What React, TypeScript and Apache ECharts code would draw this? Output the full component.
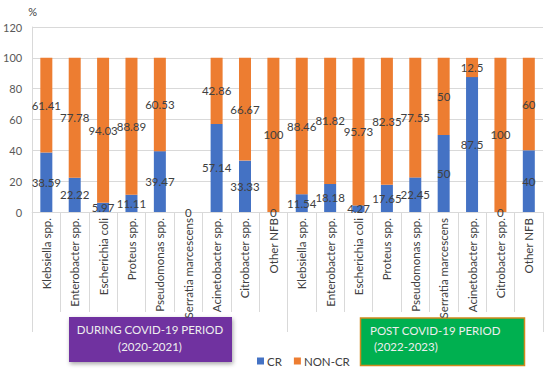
import React, { useEffect, useRef } from "react";
import * as echarts from "echarts";

const categories = [
  "Klebsiella spp.", "Enterobacter spp.", "Escherichia coli", "Proteus spp.", "Pseudomonas spp.",
  "Serratia marcescens", "Acinetobacter spp.", "Citrobacter spp.", "Other NFB",
  "Klebsiella spp.", "Enterobacter spp.", "Escherichia coli", "Proteus spp.", "Pseudomonas spp.",
  "Serratia marcescens", "Acinetobacter spp.", "Citrobacter spp.", "Other NFB",
];
const crValues = [38.59, 22.22, 5.97, 11.11, 39.47, 0, 57.14, 33.33, 0, 11.54, 18.18, 4.27, 17.65, 22.45, 50, 87.5, 0, 40];
const nonCrValues = [61.41, 77.78, 94.03, 88.89, 60.53, 0, 42.86, 66.67, 100, 88.46, 81.82, 95.73, 82.35, 77.55, 50, 12.5, 100, 60];
const groups = ["DURING COVID-19 PERIOD", "POST COVID-19 PERIOD"];
const yTicks = { min: 0, max: 120, interval: 20 };

const FONT = "Lato";
const GRID_LEFT = 31.8;
const GRID_RIGHT = 7;
const GRID_TOP = 27;
const GRID_BOTTOM = 159;

export default function App() {
  const ref = useRef<HTMLDivElement>(null);
  useEffect(() => {
    if (!ref.current) return;
    const chart = echarts.init(ref.current, undefined, { renderer: "svg" });
    const labelBase = {
      show: true,
      position: "inside" as const,
      color: "#404040",
      fontFamily: FONT,
      fontSize: 11.5,
    };
    chart.setOption({
      animation: false,
      textStyle: { fontFamily: FONT },
      grid: { left: GRID_LEFT, right: GRID_RIGHT, top: GRID_TOP, bottom: GRID_BOTTOM, containLabel: false },
      legend: {
        data: ["CR", "NON-CR"],
        left: 257,
        top: 355,
        padding: 0,
        itemWidth: 7,
        itemHeight: 7,
        itemGap: 12,
        icon: "rect",
        textStyle: { color: "#404040", fontSize: 11.5, fontFamily: FONT, padding: [0, 0, 0, -2] },
      },
      xAxis: [
        {
          type: "category",
          data: categories,
          axisLine: { lineStyle: { color: "#d9d9d9" } },
          axisTick: { show: true, interval: 0, length: 100, lineStyle: { color: "#d9d9d9" } },
          axisLabel: {
            interval: 0,
            rotate: 90,
            margin: 6,
            color: "#404040",
            fontSize: 11.5,
            fontFamily: FONT,
          },
        },
        {
          type: "category",
          data: groups,
          position: "bottom",
          axisLine: { show: false },
          axisTick: { show: true, interval: 0, length: 120, lineStyle: { color: "#d9d9d9" } },
          axisLabel: { show: false },
        },
      ],
      yAxis: {
        type: "value",
        min: yTicks.min,
        max: yTicks.max,
        interval: yTicks.interval,
        name: "%",
        nameLocation: "end",
        nameGap: 10,
        nameTextStyle: { color: "#404040", fontSize: 11, fontFamily: FONT, align: "left", padding: [0, 0, 0, -4] },
        axisLine: { show: true, lineStyle: { color: "#d9d9d9" } },
        axisTick: { show: false },
        axisLabel: { color: "#595959", fontSize: 11, fontFamily: FONT, margin: 10 },
        splitLine: { lineStyle: { color: "#d9d9d9" } },
      },
      series: [
        {
          name: "CR",
          type: "bar",
          stack: "total",
          barWidth: 12,
          data: crValues,
          itemStyle: { color: "#4472C4" },
          label: { ...labelBase, formatter: (p: any) => String(p.value) },
        },
        {
          name: "NON-CR",
          type: "bar",
          stack: "total",
          barWidth: 12,
          data: nonCrValues,
          itemStyle: { color: "#ED7D31" },
          label: { ...labelBase, formatter: (p: any) => (p.value === 0 ? "" : String(p.value)) },
        },
      ],
      graphic: [
        {
          type: "rect",
          shape: { x: 69, y: 317, width: 163, height: 45 },
          style: { fill: "#7030A0", shadowBlur: 4, shadowOffsetX: 1, shadowOffsetY: 2, shadowColor: "rgba(0,0,0,0.35)" },
        },
        {
          type: "text",
          x: 150,
          y: 329,
          style: { text: "DURING COVID-19 PERIOD", fill: "#eeeeee", font: `11.5px ${FONT}`, textAlign: "center", textVerticalAlign: "middle" },
        },
        {
          type: "text",
          x: 150,
          y: 346,
          style: { text: "(2020-2021)", fill: "#eeeeee", font: `11.5px ${FONT}`, textAlign: "center", textVerticalAlign: "middle" },
        },
        {
          type: "rect",
          shape: { x: 360.5, y: 318, width: 164, height: 47.5 },
          style: { fill: "#00B050", stroke: "#D08A1E", lineWidth: 1.5 },
        },
        {
          type: "text",
          x: 370,
          y: 330,
          style: { text: "POST COVID-19 PERIOD", fill: "#eeeeee", font: `11.5px ${FONT}`, textAlign: "left", textVerticalAlign: "middle" },
        },
        {
          type: "text",
          x: 371,
          y: 346,
          style: { text: " (2022-2023)", fill: "#eeeeee", font: `11.5px ${FONT}`, textAlign: "left", textVerticalAlign: "middle" },
        },
      ],
    });
    return () => chart.dispose();
  }, []);
  return <div ref={ref} style={{ width: 550, height: 371, position: "absolute", left: 0, top: 0 }} />;
}
